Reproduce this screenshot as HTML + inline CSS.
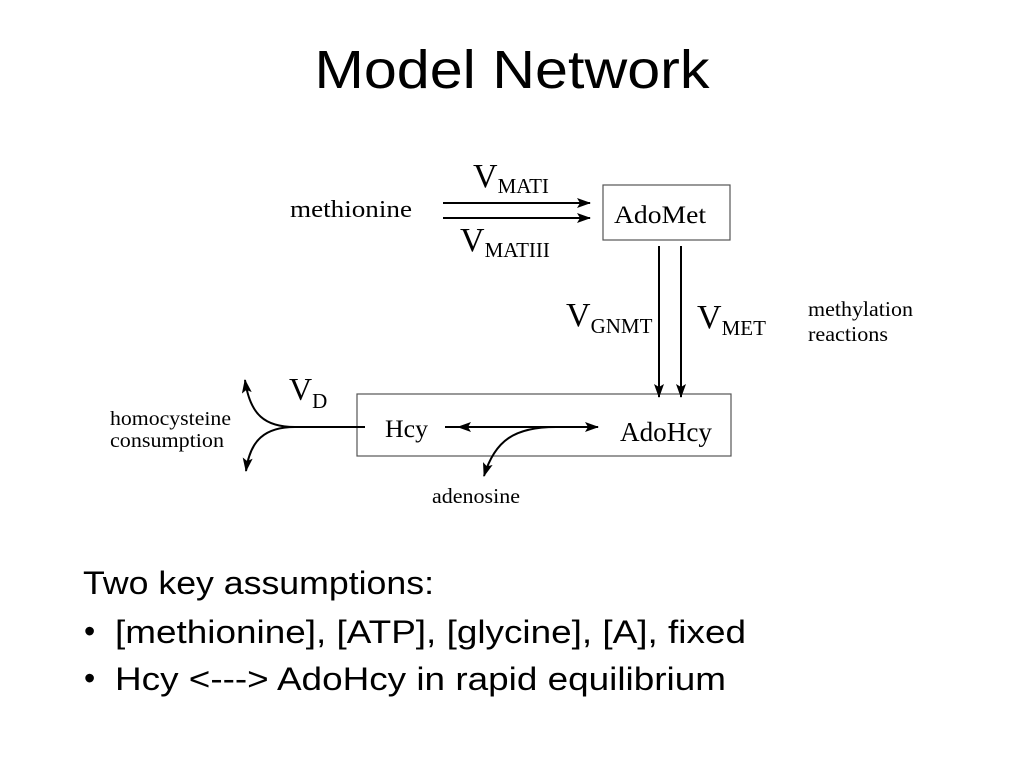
<!DOCTYPE html>
<html><head><meta charset="utf-8"><style>
html,body{margin:0;padding:0;background:#fff;width:1024px;height:768px;overflow:hidden}
svg{display:block}
</style></head><body>
<svg width="1024" height="768" viewBox="0 0 1024 768" xmlns="http://www.w3.org/2000/svg">
<defs>
<marker id="ah" markerWidth="14" markerHeight="10" refX="13" refY="5" orient="auto" markerUnits="userSpaceOnUse">
<path d="M0,0 L14,5 L0,10 L3,5 Z" fill="#000"/></marker>
</defs>
<text x="512" y="88" font-family="Liberation Sans, sans-serif" font-size="54" text-anchor="middle" textLength="395" lengthAdjust="spacingAndGlyphs">Model Network</text>

<g font-family="Liberation Serif, serif" fill="#000">
<rect x="603" y="185" width="127" height="55" fill="none" stroke="#555" stroke-width="1.2"/>
<text x="614" y="223" font-size="25" textLength="92" lengthAdjust="spacingAndGlyphs">AdoMet</text>
<rect x="357" y="394" width="374" height="62" fill="none" stroke="#555" stroke-width="1.2"/>
<text x="385" y="437" font-size="25" textLength="43" lengthAdjust="spacingAndGlyphs">Hcy</text>
<text x="620" y="441" font-size="27" textLength="92" lengthAdjust="spacingAndGlyphs">AdoHcy</text>

<text x="290" y="217" font-size="24" textLength="122" lengthAdjust="spacingAndGlyphs">methionine</text>
<line x1="443" y1="203" x2="590" y2="203" stroke="#000" stroke-width="2" marker-end="url(#ah)"/>
<line x1="443" y1="218" x2="590" y2="218" stroke="#000" stroke-width="2" marker-end="url(#ah)"/>
<text x="473" y="187" font-size="34">V<tspan font-size="21" dy="6">MATI</tspan></text>
<text x="460" y="251" font-size="34">V<tspan font-size="21" dy="6">MATIII</tspan></text>

<line x1="659" y1="246" x2="659" y2="397" stroke="#000" stroke-width="2" marker-end="url(#ah)"/>
<line x1="681" y1="246" x2="681" y2="397" stroke="#000" stroke-width="2" marker-end="url(#ah)"/>
<text x="566" y="326" font-size="34">V<tspan font-size="21" dy="7">GNMT</tspan></text>
<text x="697" y="328" font-size="34">V<tspan font-size="21" dy="7">MET</tspan></text>
<text x="808" y="316" font-size="21" textLength="105" lengthAdjust="spacingAndGlyphs">methylation</text>
<text x="808" y="341" font-size="21" textLength="80" lengthAdjust="spacingAndGlyphs">reactions</text>

<line x1="445" y1="427" x2="598" y2="427" stroke="#000" stroke-width="2" marker-end="url(#ah)"/>
<line x1="560" y1="427" x2="458" y2="427" stroke="#000" stroke-width="2" marker-end="url(#ah)"/>
<path d="M556,427 C515,427 495,440 484,476" fill="none" stroke="#000" stroke-width="2" marker-end="url(#ah)"/>
<text x="476" y="503" font-size="21" text-anchor="middle" textLength="88" lengthAdjust="spacingAndGlyphs">adenosine</text>

<path d="M365,427 L295,427 C265,427 250,415 245,380" fill="none" stroke="#000" stroke-width="2" marker-end="url(#ah)"/>
<path d="M295,427 C265,427 250,440 246,471" fill="none" stroke="#000" stroke-width="2" marker-end="url(#ah)"/>
<text x="289" y="400" font-size="32">V<tspan font-size="21" dy="8">D</tspan></text>
<text x="110" y="425" font-size="20" textLength="121" lengthAdjust="spacingAndGlyphs">homocysteine</text>
<text x="110" y="447" font-size="20" textLength="114" lengthAdjust="spacingAndGlyphs">consumption</text>
</g>

<g font-family="Liberation Sans, sans-serif" font-size="32" fill="#000">
<text x="83" y="594" textLength="351" lengthAdjust="spacingAndGlyphs">Two key assumptions:</text>
<text x="84" y="642">•</text>
<text x="115" y="643" textLength="631" lengthAdjust="spacingAndGlyphs">[methionine], [ATP], [glycine], [A], fixed</text>
<text x="84" y="689">•</text>
<text x="115" y="690" textLength="611" lengthAdjust="spacingAndGlyphs">Hcy &lt;---&gt;  AdoHcy in rapid equilibrium</text>
</g>
</svg>
</body></html>
